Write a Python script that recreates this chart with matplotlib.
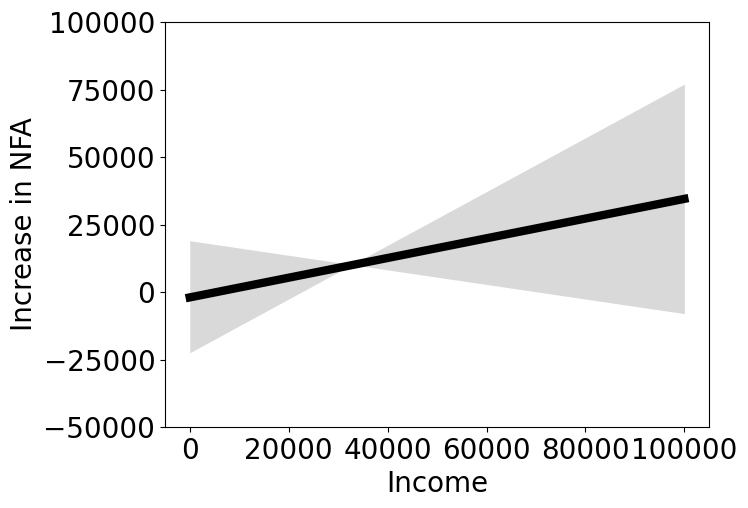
import matplotlib
matplotlib.use("Agg")
import matplotlib.pyplot as plt

# values
income = [0, 100000]
fit_nfa = [-2000, 34500]
band_a = [19000, -8000]
band_b = [-22500, 77000]

plt.rcParams['font.size'] = 20

fig = plt.figure(figsize=(7.48, 5.08), dpi=100)
ax = fig.add_axes([0.2206, 0.1594, 0.948 - 0.2206, 0.9567 - 0.1594])

ax.fill_between(income, band_a, band_b, color='#d9d9d9', linewidth=0)
ax.plot(income, fit_nfa, color='black', linewidth=6)

ax.set_ylim(-50000, 100000)
ax.set_xticks([0, 20000, 40000, 60000, 80000, 100000])
ax.set_yticks([-50000, -25000, 0, 25000, 50000, 75000, 100000])
ax.set_xlabel('Income')
ax.set_ylabel('Increase in NFA')

fig.savefig('out.png', dpi=100)
